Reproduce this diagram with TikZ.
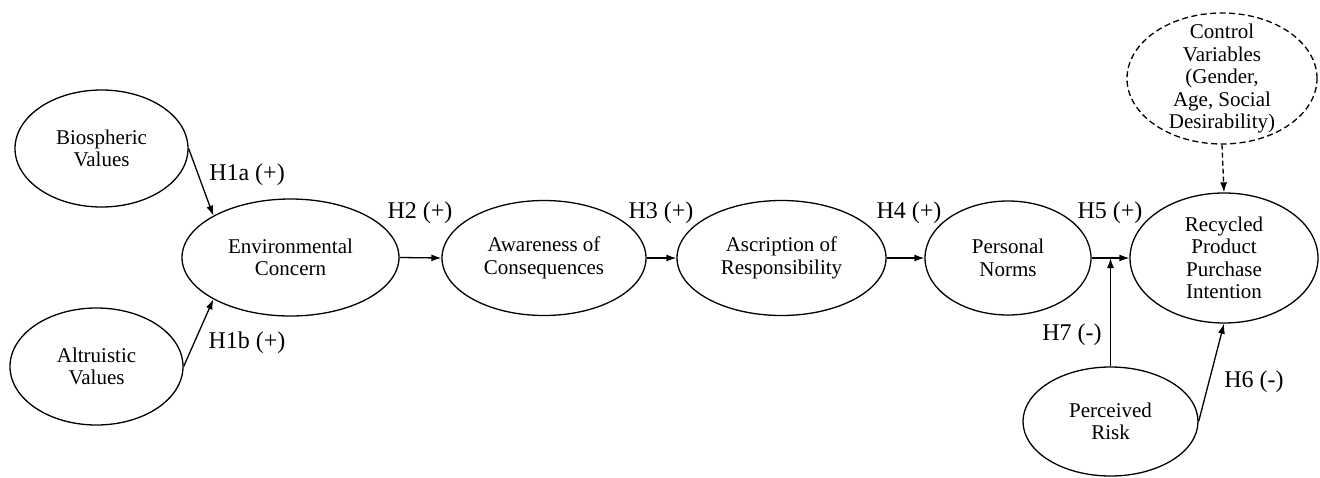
\documentclass[tikz,border=0pt]{standalone}
\usepackage{fontspec}
\setmainfont{Liberation Serif}
\usetikzlibrary{shapes.geometric,arrows.meta}

\tikzset{
  var/.style={draw, ellipse, line width=1.3pt, inner sep=0pt, align=center,
              font=\fontsize{21}{22.5}\selectfont},
  ctrlvar/.style={var, dash pattern=on 6pt off 3.5pt},
  txt/.style={inner sep=0pt, align=center, font=\fontsize{21}{22.5}\selectfont},
  hyp/.style={inner sep=0pt, font=\fontsize{24}{28}\selectfont},
  path/.style={line width=1.3pt, -{Latex[length=10pt,width=7pt]}},
  ctrlpath/.style={path, dash pattern=on 5pt off 3pt}
}

\begin{document}
\begin{tikzpicture}[x=1pt, y=-1pt]
  \useasboundingbox (0,0) rectangle (1320,477);

  % constructs
  \node[var, minimum width=173pt, minimum height=117pt] (bio) at (101.5,148.5) {Biospheric\\Values};
  \node[var, minimum width=173pt, minimum height=117pt] (alt) at (96.5,366.5) {Altruistic\\Values};
  \node[var, minimum width=217pt, minimum height=117pt] (env) at (290.5,257.5) {Environmental\\Concern};
  \node[var, minimum width=204pt, minimum height=115pt] (awa) at (544,258) {Awareness of\\Consequences};
  \node[var, minimum width=209pt, minimum height=115pt] (asc) at (781.5,258) {Ascription of\\Responsibility};
  \node[var, minimum width=166pt, minimum height=114pt] (pn) at (1008,258) {Personal\\Norms};
  \node[var, minimum width=188pt, minimum height=130pt] (rppi) at (1224,258) {Recycled\\Product\\Purchase\\Intention};
  \node[var, minimum width=175pt, minimum height=109pt] (risk) at (1110.5,421.5) {Perceived\\Risk};
  \node[ctrlvar, minimum width=190pt, minimum height=131pt] (ctrl) at (1222,78.5) {};
  \node[txt] (ctrltxt) at (ctrl.center) {Control\\Variables\\(Gender,\\Age, Social\\Desirability)};

  % hypothesised paths
  \draw[path] (bio.east) -- (env.north west);
  \draw[path] (alt.east) -- (env.south west);
  \draw[path] (env.east) -- (awa.west);
  \draw[path] (awa.east) -- (asc.west);
  \draw[path] (asc.east) -- (pn.west);
  \draw[path] (pn.east) -- (rppi.west);
  \coordinate (mod) at (risk.north |- pn.east);
  \draw[path] (risk.north) -- (mod);
  \draw[path] (risk.east) -- (rppi.south);
  \draw[ctrlpath] (ctrl.south) -- (rppi.north);

  % hypothesis labels
  \node[hyp] (h1a) at (247,175) {H1a (+)};
  \node[hyp] (h1b) at (247,343) {H1b (+)};
  \node[hyp] (h2) at (420,213) {H2 (+)};
  \node[hyp] (h3) at (661,213) {H3 (+)};
  \node[hyp] (h4) at (909,213) {H4 (+)};
  \node[hyp] (h5) at (1110,213) {H5 (+)};
  \node[hyp] (h7) at (1072,335) {H7 (-)};
  \node[hyp] (h6) at (1254,382) {H6 (-)};
\end{tikzpicture}
\end{document}
